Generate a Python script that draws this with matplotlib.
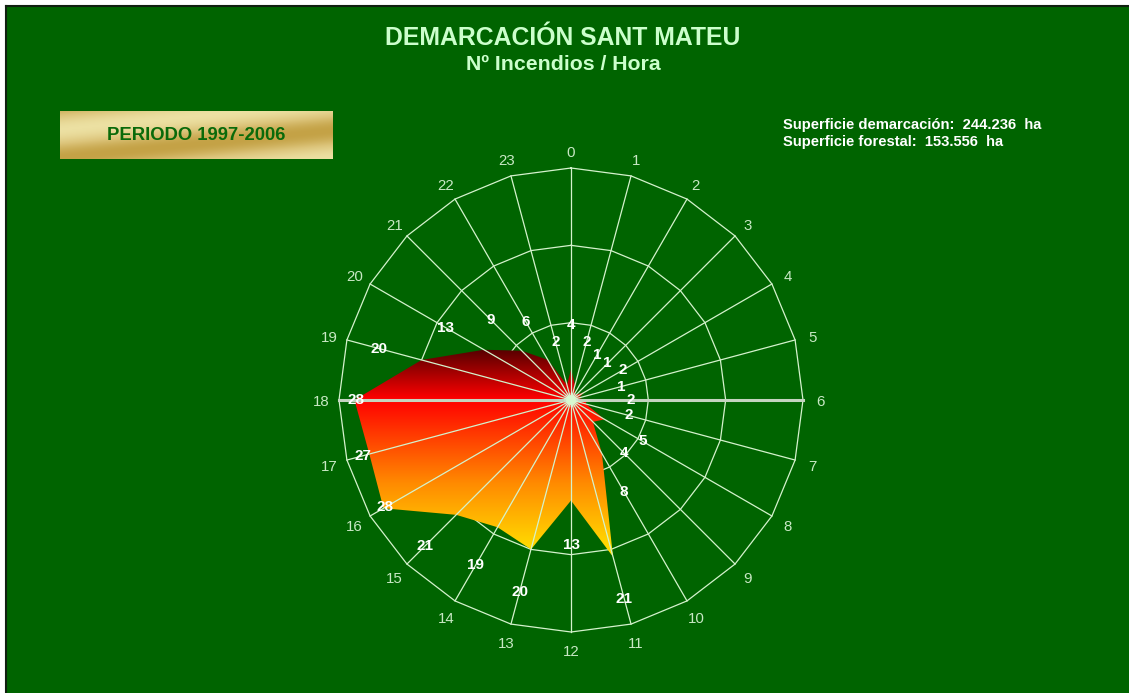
import numpy as np
import matplotlib
matplotlib.use("Agg")
import matplotlib.pyplot as plt
from matplotlib.patches import Polygon, Rectangle
from matplotlib.colors import LinearSegmentedColormap
from matplotlib.lines import Line2D

plt.rcParams['font.family'] = ['Liberation Sans', 'DejaVu Sans']

# datos: numero de incendios por hora (1997-2006)
horas = list(range(24))
incendios = [4, 2, 1, 1, 2, 1, 2, 2, 5, 4, 8, 21, 13, 20, 19, 21, 28, 27, 28, 20, 13, 9, 6, 2]
anillos = [10, 20, 30]
titulo = "DEMARCACIÓN SANT MATEU"
subtitulo = "Nº Incendios / Hora"
periodo = "PERIODO 1997-2006"
superficie = ["Superficie demarcación:  244.236  ha", "Superficie forestal:  153.556  ha"]

verde = "#006400"
linea = "#d4f2cc"

W, H = 1129, 693
fig = plt.figure(figsize=(W / 100, H / 100), dpi=100)
fig.patch.set_facecolor("white")

# fondo verde con borde negro arriba e izquierda
fig.patches.append(Rectangle((6 / W, 0), 1 - 6 / W, 1 - 6 / H, transform=fig.transFigure,
                             facecolor=verde, edgecolor="none", zorder=-5))
fig.lines.append(Line2D([6 / W, 6 / W], [0, 1 - 6 / H], transform=fig.transFigure, color="#102010", lw=1.5, zorder=-4))
fig.lines.append(Line2D([6 / W, 1], [1 - 6 / H, 1 - 6 / H], transform=fig.transFigure, color="#102010", lw=1.5, zorder=-4))

# titulos
fig.text(563 / W, 1 - 38 / H, titulo, ha="center", va="center", fontsize=17.8, fontweight="bold", color="#ccffcc")
fig.text(563 / W, 1 - 64 / H, subtitulo, ha="center", va="center", fontsize=15.3, fontweight="bold", color="#ccffcc")

# recuadro dorado
axg = fig.add_axes([60 / W, 1 - 159 / H, 273 / W, 48 / H])
yy, xx = np.mgrid[0:48, 0:273]
t = 0.5 + 0.5 * np.cos((yy - 18 + xx * 0.1) / 9.0)
oro = LinearSegmentedColormap.from_list("oro", ["#c4a246", "#dcc47a", "#ece0a2"])
axg.imshow(t, cmap=oro, aspect="auto", extent=[0, 1, 0, 1])
axg.set_axis_off()
axg.text(0.5, 0.5, periodo, ha="center", va="center", fontsize=13.3, fontweight="bold",
         color="#0a6a0a", transform=axg.transAxes)

for i, s in enumerate(superficie):
    fig.text(783 / W, 1 - (125 + i * 17) / H, s, ha="left", va="center", fontsize=10.6,
             fontweight="bold", color="white")

# grafico radial
cx, cy = 571, 400
esc = 232 / 30.0
half = 285
L = half / esc
ax = fig.add_axes([(cx - half) / W, (H - cy - half) / H, 2 * half / W, 2 * half / H])
ax.set_xlim(-L, L)
ax.set_ylim(-L, L)
ax.set_axis_off()
ax.patch.set_alpha(0)

ang = np.deg2rad(np.array(horas) * 360.0 / 24)
sx, sy = np.sin(ang), np.cos(ang)

for r in anillos:
    ax.plot(np.append(r * sx, r * sx[0]), np.append(r * sy, r * sy[0]), color=linea, lw=0.9, zorder=1)

v = np.array(incendios, dtype=float)
px, py = v * sx, v * sy
poly = Polygon(np.column_stack([px, py]), closed=True, facecolor="none", edgecolor="none")
ax.add_patch(poly)
grad = LinearSegmentedColormap.from_list("fuego", [(0, "#ffe600"), (0.35, "#ff8c00"),
                                                   (0.76, "#ff0000"), (1.0, "#560000")])
g = np.linspace(0, 1, 256).reshape(-1, 1)
im = ax.imshow(g, cmap=grad, origin="lower", aspect="auto",
               extent=[px.min(), px.max(), py.min(), py.max()], zorder=2)
im.set_clip_path(poly)
ax.set_xlim(-L, L)
ax.set_ylim(-L, L)

for i in horas:
    col, lw = linea, 0.9
    if i in (6, 18):
        col, lw = "#c4d4c0", 2.2
    ax.plot([0, 30 * sx[i]], [0, 30 * sy[i]], color=col, lw=lw, zorder=3)
    ax.text(32.3 * sx[i], 32.3 * sy[i] - 0.3, str(i), ha="center", va="center", fontsize=10.8,
            color="#c8e8c4", zorder=4)
    rl = min(v[i] + 5.7, 27.8)
    ax.text(rl * sx[i], rl * sy[i], str(incendios[i]), ha="center", va="center", fontsize=11,
            fontweight="bold", color="white", zorder=5)

ax.scatter([0], [0], s=110, color="#e0ffe0", alpha=0.35, edgecolors="none", zorder=5)
ax.scatter([0], [0], s=50, color="#d8f8d0", edgecolors="none", zorder=6)

fig.savefig("out.png", dpi=100, facecolor=fig.get_facecolor())
